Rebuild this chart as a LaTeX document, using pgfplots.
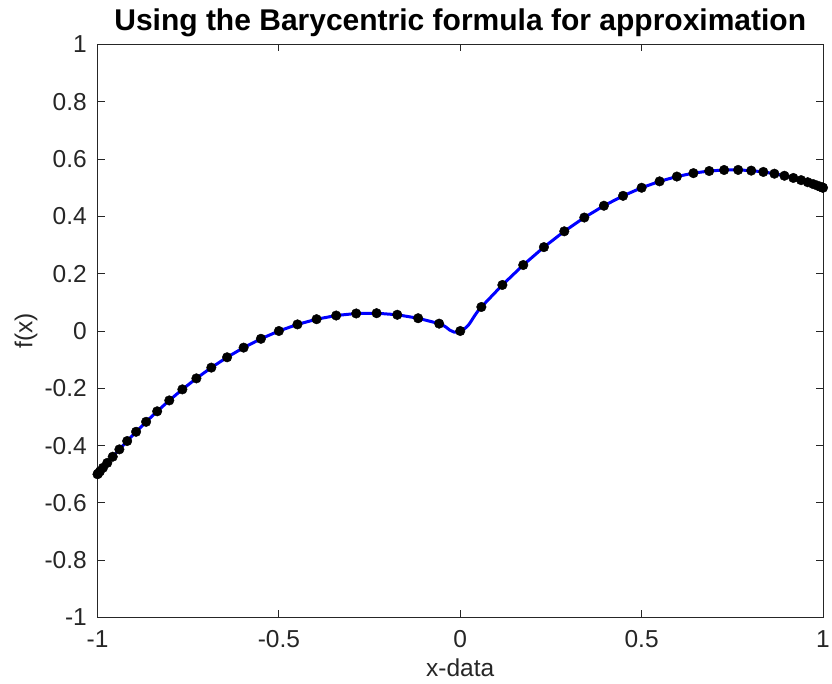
\documentclass[border=0pt]{standalone}
\usepackage{pgfplots}
\usepackage{pgfplotstable}
\pgfplotsset{compat=1.18}
\usepackage{fontspec}
\setmainfont{Liberation Sans}
\definecolor{axgray}{rgb}{0.15,0.15,0.15}
\pgfplotstableread{
x y
1.000000 0.500000
0.998308 0.500843
0.993238 0.503335
0.984808 0.507365
0.973045 0.512751
0.957990 0.519240
0.939693 0.526517
0.918216 0.534203
0.893633 0.541870
0.866025 0.549038
0.835488 0.555192
0.802123 0.559784
0.766044 0.562242
0.727374 0.561988
0.686242 0.558435
0.642788 0.551006
0.597159 0.539140
0.549509 0.522304
0.500000 0.500000
0.448799 0.471778
0.396080 0.437241
0.342020 0.396052
0.286803 0.347949
0.230616 0.292740
0.173648 0.230318
0.116093 0.160662
0.058145 0.083837
0.000000 0.000000
-0.058145 0.025692
-0.116093 0.044569
-0.173648 0.056670
-0.230616 0.062124
-0.286803 0.061146
-0.342020 0.054032
-0.396080 0.041161
-0.448799 0.022979
-0.500000 0.000000
-0.549509 -0.027205
-0.597159 -0.058019
-0.642788 -0.091782
-0.686242 -0.127807
-0.727374 -0.165386
-0.766044 -0.203802
-0.802123 -0.242339
-0.835488 -0.280296
-0.866025 -0.316987
-0.893633 -0.351763
-0.918216 -0.384013
-0.939693 -0.413176
-0.957990 -0.438750
-0.973045 -0.460294
-0.984808 -0.477443
-0.993238 -0.489903
-0.998308 -0.497465
-1.000000 -0.500000
}\nodes
\begin{document}
\begin{tikzpicture}
\begin{axis}[
  scale only axis,
  width=725.5pt, height=573pt,
  xmin=-1, xmax=1, ymin=-1, ymax=1,
  xtick={-1,-0.5,0,0.5,1},
  ytick={-1,-0.8,-0.6,-0.4,-0.2,0,0.2,0.4,0.6,0.8,1},
  tick align=inside,
  major tick length=7pt,
  axis line style={axgray, line width=0.9pt},
  every tick/.style={axgray, line width=0.9pt},
  /pgf/number format/assume math mode=true,
  tick label style={font=\fontsize{24.5}{29}\selectfont, text=axgray},
  xticklabel style={anchor=north, inner sep=0pt, yshift=-13pt},
  yticklabel style={anchor=east, inner sep=0pt, xshift=-10.5pt},
  xlabel={x-data},
  ylabel={f(x)},
  label style={font=\fontsize{24.5}{29}\selectfont, text=axgray},
  xlabel style={at={(rel axis cs:0.5,-0.1033)}, anchor=base},
  ylabel style={at={(rel axis cs:-0.0986,0.5)}, anchor=center, rotate=0},
  title={Using the Barycentric formula for approximation},
  title style={at={(rel axis cs:0.5,1.0148)}, anchor=base, font=\fontsize{30}{35}\selectfont\bfseries},
  clip=false,
]
\coordinate (bbsw) at (rel axis cs:-0.1344,-0.11606);
\coordinate (bbne) at (rel axis cs:1.01241,1.07766);
\addplot[blue, line width=3pt, smooth, tension=0.9, no marks] table[x=x,y=y] {\nodes};
\addplot[only marks, mark=*, mark size=4.8pt, mark options={fill=black, draw=black}] table[x=x,y=y] {\nodes};
\end{axis}
\pgfresetboundingbox
\path[use as bounding box] (bbsw) rectangle (bbne);
\end{tikzpicture}
\end{document}
